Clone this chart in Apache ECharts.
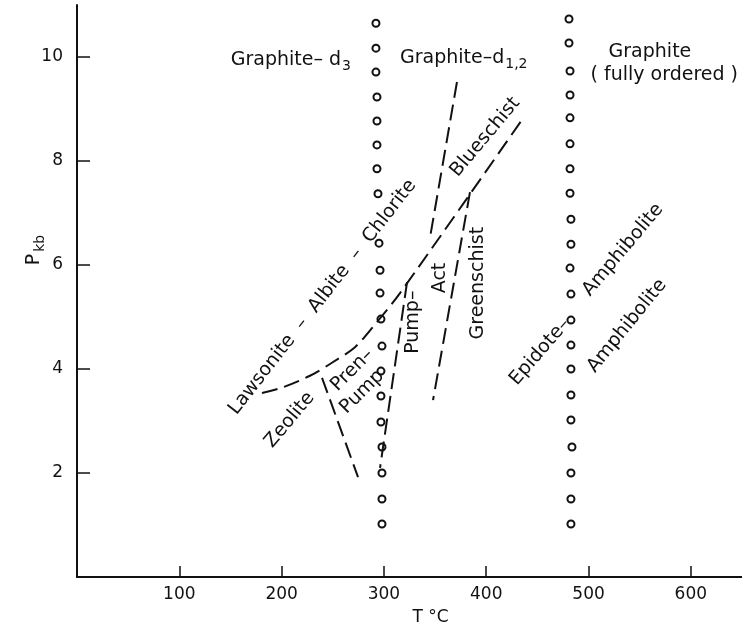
<!DOCTYPE html>
<html>
<head>
<meta charset="utf-8">
<script src="https://cdn.jsdelivr.net/npm/echarts@6/dist/echarts.min.js"></script>
<style>
  html, body { margin: 0; padding: 0; background: #fff; }
  #chart { width: 742px; height: 634px; }
</style>
</head>
<body>
<div id="chart"></div>
<script>
// axis ticks
const xTicks = [100, 200, 300, 400, 500, 600]
const yTicks = [2, 4, 6, 8, 10]

// graphite-d3 / d1,2 limit (open circles, left column)
const col1T = [292.2, 292.2, 292.2, 293.2, 293.2, 293.2, 293.2, 294.2, 295.2, 296.2, 296.2, 297.1, 298.1, 297.1, 297.1, 297.1, 298.1, 298.1, 298.1, 298.1]
const col1P = [10.65, 10.17, 9.71, 9.23, 8.77, 8.31, 7.85, 7.37, 6.42, 5.90, 5.46, 4.96, 4.44, 3.96, 3.48, 2.98, 2.50, 2.00, 1.50, 1.02]

// fully ordered graphite limit (open circles, right column)
const col2T = [480.9, 480.9, 481.9, 481.9, 481.9, 481.9, 481.9, 481.9, 482.8, 482.8, 481.9, 482.8, 482.8, 482.8, 482.8, 482.8, 482.8, 483.8, 482.8, 482.8, 482.8]
const col2P = [10.73, 10.27, 9.73, 9.27, 8.83, 8.33, 7.85, 7.38, 6.88, 6.40, 5.94, 5.44, 4.94, 4.46, 4.00, 3.50, 3.02, 2.50, 2.00, 1.50, 1.02]

// facies boundaries (dashed)
const lawsoniteT = [180.8, 201.4, 227.7, 249.2, 271.7, 289.3, 315.7, 434.9]
const lawsoniteP = [3.54, 3.65, 3.87, 4.12, 4.42, 4.81, 5.46, 8.79]
const blueschistT = [371.4, 345.0]
const blueschistP = [9.52, 6.52]
const greenschistT = [384.1, 348.0]
const greenschistP = [7.40, 3.40]
const pumpActT = [322.6, 296.2]
const pumpActP = [5.67, 2.10]
const zeoliteT = [239.5, 274.7]
const zeoliteP = [3.83, 1.92]

// field labels
const noteText = [
  '{a|Graphite– d}{s|3}',
  '{a|Graphite–d}{s|1,2}',
  'Graphite',
  '( fully ordered )',
  'Blueschist',
  'Lawsonite  –  Albite  –  Chlorite',
  'Zeolite',
  'Pren–',
  'Pump',
  'Pump–',
  'Act',
  'Greenschist',
  'Epidote–',
  'Amphibolite',
  'Amphibolite'
]
const noteT = [209, 378, 560, 574, 399, 240, 208, 269, 278.6, 328, 355, 392, 452.5, 533.7, 537.6]
const noteP = [9.94, 9.98, 10.1, 9.65, 8.46, 5.38, 3.02, 3.98, 3.56, 4.90, 5.75, 5.65, 4.33, 6.29, 4.83]
const noteRot = [0, 0, 0, 0, 50, 52, 50, 45, 45, 90, 90, 90, 49, 50, 51]

const ink = '#111'
const font = "'DejaVu Sans', sans-serif"

const zip = (xs, ys) => xs.map((x, i) => [x, ys[i]])

const dashed = (data, smooth) => ({
  type: 'line',
  data,
  smooth: smooth || false,
  symbol: 'none',
  silent: true,
  lineStyle: { color: ink, width: 2, type: [16, 7] }
})

// emptyCircle strokes with the item colour
const circles = (data) => ({
  type: 'scatter',
  data,
  symbol: 'emptyCircle',
  symbolSize: 7,
  silent: true,
  itemStyle: { color: ink, borderWidth: 1.4, opacity: 1 }
})

const chart = echarts.init(document.getElementById('chart'), null, { renderer: 'canvas' })

chart.setOption({
  animation: false,
  backgroundColor: '#fff',
  grid: { left: 77, right: 0, top: 5, bottom: 57, outerBoundsMode: 'none' },
  xAxis: {
    type: 'value',
    min: 0,
    max: 650,
    interval: 100,
    name: 'T °C',
    nameLocation: 'middle',
    nameGap: 32,
    nameMoveOverlap: false,
    nameTextStyle: { color: ink, fontFamily: font, fontSize: 17, padding: [0, 0, 0, 42] },
    axisLine: { show: true, onZero: false, lineStyle: { color: ink, width: 2 } },
    axisTick: { show: true, inside: true, length: 11, customValues: xTicks, lineStyle: { color: ink, width: 1.5 } },
    axisLabel: { color: ink, fontFamily: font, fontSize: 17, margin: 9, customValues: xTicks },
    splitLine: { show: false }
  },
  yAxis: {
    type: 'value',
    min: 0,
    max: 11,
    interval: 2,
    name: '{p|P}{s|kb}',
    nameLocation: 'middle',
    nameRotate: 90,
    nameGap: 30,
    nameMoveOverlap: false,
    nameTextStyle: {
      color: ink,
      fontFamily: font,
      padding: [0, 0, 0, 82],
      rich: {
        p: { fontSize: 19, fontFamily: font, color: ink },
        s: { fontSize: 14, fontFamily: font, color: ink, padding: [12, 0, 0, 2] }
      }
    },
    axisLine: { show: true, onZero: false, lineStyle: { color: ink, width: 2 } },
    axisTick: { show: true, inside: true, length: 13, customValues: yTicks, lineStyle: { color: ink, width: 1.5 } },
    axisLabel: { color: ink, fontFamily: font, fontSize: 17, margin: 14, customValues: yTicks },
    splitLine: { show: false }
  },
  series: [
    circles(zip(col1T, col1P)),
    circles(zip(col2T, col2P)),
    dashed(zip(lawsoniteT, lawsoniteP), 0.3),
    dashed(zip(blueschistT, blueschistP)),
    dashed(zip(greenschistT, greenschistP)),
    dashed(zip(pumpActT, pumpActP)),
    dashed(zip(zeoliteT, zeoliteP)),
    {
      type: 'scatter',
      symbolSize: 0,
      silent: true,
      z: 5,
      itemStyle: { opacity: 1 },
      data: noteText.map((text, i) => ({
        value: [noteT[i], noteP[i]],
        label: { formatter: text, rotate: noteRot[i] }
      })),
      label: {
        show: true,
        position: 'inside',
        color: ink,
        textBorderWidth: 0,
        fontFamily: font,
        fontSize: 19,
        rich: {
          a: { fontSize: 19, fontFamily: font, color: ink, textBorderWidth: 0 },
          s: { fontSize: 14, fontFamily: font, color: ink, textBorderWidth: 0, padding: [12, 0, 0, 1] }
        }
      }
    }
  ]
})
</script>
</body>
</html>
